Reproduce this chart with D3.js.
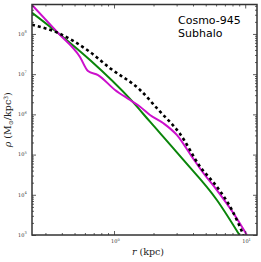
<!DOCTYPE html>
<html>
<head>
<meta charset="utf-8">
<script src="https://cdn.jsdelivr.net/npm/d3@7"></script>
<style>
    body { margin: 0; background: #fff; }
    svg { display: block; }
</style>
</head>
<body>
<svg id="chart" width="261" height="262"></svg>
<script>
// radius (kpc) and density (Msun/kpc^3)
let rGreen = [0.237, 0.374, 0.656, 1.325, 1.88, 3.38, 6.08, 9.04];
let rhoGreen = [3.39e8, 1.06e8, 2.25e7, 2.42e6, 6.58e5, 7.35e4, 7.43e3, 1.0e3];

let rMagenta = [0.237, 0.374, 0.55, 0.633, 0.755, 1.018, 1.325, 1.58, 1.88, 2.38, 3.01, 3.92, 4.81, 6.08, 8.14, 10.3];
let rhoMagenta = [5.25e8, 1.06e8, 2.68e7, 1.2e7, 9.5e6, 4.05e6, 2.28e6, 1.55e6, 9.66e5, 6.01e5, 3.08e5, 8.87e4, 3.43e4, 1.31e4, 3.47e3, 1.0e3];

let rBlack = [0.237, 0.374, 0.656, 0.932, 1.58, 2.18, 3.19, 4.53, 6.08, 7.92, 9.70];
let rhoBlack = [1.7e8, 1.06e8, 3.55e7, 1.41e7, 4.05e6, 1.29e6, 3.25e5, 5.0e4, 1.59e4, 4.19e3, 1.0e3];

let xMajor = [1, 10];
let xMajorLabels = ["0", "1"];
let yMajor = [1e3, 1e4, 1e5, 1e6, 1e7, 1e8];
let yMajorLabels = ["3", "4", "5", "6", "7", "8"];

let title = ["Cosmo-945", "Subhalo"];

let svg = d3.select("#chart");
let mLeft = 32, mRight = 257, mTop = 4.5, mBottom = 235;

let x = d3.scaleLog().domain([0.237, 12.3]).range([mLeft, mRight]);
let y = d3.scaleLog().domain([1e3, 5.4e8]).range([mBottom, mTop]);

let xMinor = [];
for (let k = -1; k <= 1; k++) {
    for (let m = 2; m <= 9; m++) {
        let v = m * Math.pow(10, k);
        if (v > 0.237 && v < 12.3) xMinor.push(v);
    }
}
let yMinor = [];
for (let k = 3; k <= 8; k++) {
    for (let m = 2; m <= 9; m++) {
        let v = m * Math.pow(10, k);
        if (v < 5.4e8) yMinor.push(v);
    }
}

svg.append("clipPath").attr("id", "clip")
    .append("rect")
    .attr("x", mLeft).attr("y", mTop)
    .attr("width", mRight - mLeft).attr("height", mBottom - mTop);

// curves
let lines = svg.append("g").attr("clip-path", "url(#clip)");

function drawLine(rs, rhos, color, dash) {
    let pts = rs.map(function(r, i) { return [r, rhos[i]]; });
    let line = d3.line()
        .x(function(d) { return x(d[0]); })
        .y(function(d) { return y(d[1]); })
        .curve(d3.curveMonotoneX);
    let p = lines.append("path")
        .datum(pts)
        .attr("d", line)
        .attr("fill", "none")
        .attr("stroke", color)
        .attr("stroke-width", 2);
    if (dash) p.attr("stroke-dasharray", dash).attr("stroke-width", 2.6);
}

drawLine(rGreen, rhoGreen, "#0a850a");
drawLine(rMagenta, rhoMagenta, "#cc10cc");
drawLine(rBlack, rhoBlack, "#000", "3,3");

// ticks, pointing inwards on all four sides
let axisColor = "#333";
function styleAxis(g) {
    g.select(".domain").remove();
    g.selectAll("line").attr("stroke", axisColor).attr("stroke-width", 0.8);
}

svg.append("g").attr("transform", "translate(0," + mBottom + ")")
    .call(d3.axisBottom(x).tickValues(xMajor).tickSize(-4).tickFormat(""))
    .call(styleAxis);
svg.append("g").attr("transform", "translate(0," + mBottom + ")")
    .call(d3.axisBottom(x).tickValues(xMinor).tickSize(-2).tickFormat(""))
    .call(styleAxis);
svg.append("g").attr("transform", "translate(0," + mTop + ")")
    .call(d3.axisTop(x).tickValues(xMajor).tickSize(-4).tickFormat(""))
    .call(styleAxis);
svg.append("g").attr("transform", "translate(0," + mTop + ")")
    .call(d3.axisTop(x).tickValues(xMinor).tickSize(-2).tickFormat(""))
    .call(styleAxis);
svg.append("g").attr("transform", "translate(" + mLeft + ",0)")
    .call(d3.axisLeft(y).tickValues(yMajor).tickSize(-4).tickFormat(""))
    .call(styleAxis);
svg.append("g").attr("transform", "translate(" + mLeft + ",0)")
    .call(d3.axisLeft(y).tickValues(yMinor).tickSize(-2).tickFormat(""))
    .call(styleAxis);
svg.append("g").attr("transform", "translate(" + mRight + ",0)")
    .call(d3.axisRight(y).tickValues(yMajor).tickSize(-4).tickFormat(""))
    .call(styleAxis);
svg.append("g").attr("transform", "translate(" + mRight + ",0)")
    .call(d3.axisRight(y).tickValues(yMinor).tickSize(-2).tickFormat(""))
    .call(styleAxis);

// frame
svg.append("rect")
    .attr("x", mLeft).attr("y", mTop)
    .attr("width", mRight - mLeft).attr("height", mBottom - mTop)
    .attr("fill", "none")
    .attr("stroke", axisColor)
    .attr("stroke-width", 1.5);

// tick labels with superscripts
let serif = "'DejaVu Serif', 'Liberation Serif', serif";

function powLabel(sel, exp) {
    sel.append("tspan").text("10");
    sel.append("tspan").attr("dy", -2.5).attr("font-size", 3.6).text(exp);
}

xMajor.forEach(function(v, i) {
    let t = svg.append("text")
        .attr("x", x(v) - 3)
        .attr("y", mBottom + 8)
        .attr("font-family", serif)
        .attr("font-size", 5)
        .attr("fill", "#333");
    powLabel(t, xMajorLabels[i]);
});

yMajor.forEach(function(v, i) {
    let t = svg.append("text")
        .attr("x", mLeft - 14)
        .attr("y", y(v) + 1.8)
        .attr("font-family", serif)
        .attr("font-size", 5)
        .attr("fill", "#333");
    powLabel(t, yMajorLabels[i]);
});

// axis titles
let xl = svg.append("text")
    .attr("x", 148)
    .attr("y", 255)
    .attr("text-anchor", "middle")
    .attr("font-family", serif)
    .attr("font-size", 9.5)
    .attr("fill", "#222");
xl.append("tspan").attr("font-style", "italic").text("r");
xl.append("tspan").text(" (kpc)");

let yl = svg.append("text")
    .attr("transform", "translate(11," + ((mTop + mBottom) / 2) + ") rotate(-90)")
    .attr("text-anchor", "middle")
    .attr("font-family", serif)
    .attr("font-size", 9.5)
    .attr("fill", "#222");
yl.append("tspan").attr("font-style", "italic").text("ρ");
yl.append("tspan").text(" (M");
yl.append("tspan").attr("font-size", 6).attr("dy", 2).text("⊙");
yl.append("tspan").attr("dy", -2).text("/kpc");
yl.append("tspan").attr("font-size", 6).attr("dy", -3.5).text("3");
yl.append("tspan").attr("dy", 3.5).text(")");

// label in the corner
title.forEach(function(s, i) {
    svg.append("text")
        .attr("x", 178)
        .attr("y", 24 + i * 12.5)
        .attr("font-family", "'DejaVu Sans', sans-serif")
        .attr("font-size", 11)
        .attr("fill", "#000")
        .text(s);
});
</script>
</body>
</html>
